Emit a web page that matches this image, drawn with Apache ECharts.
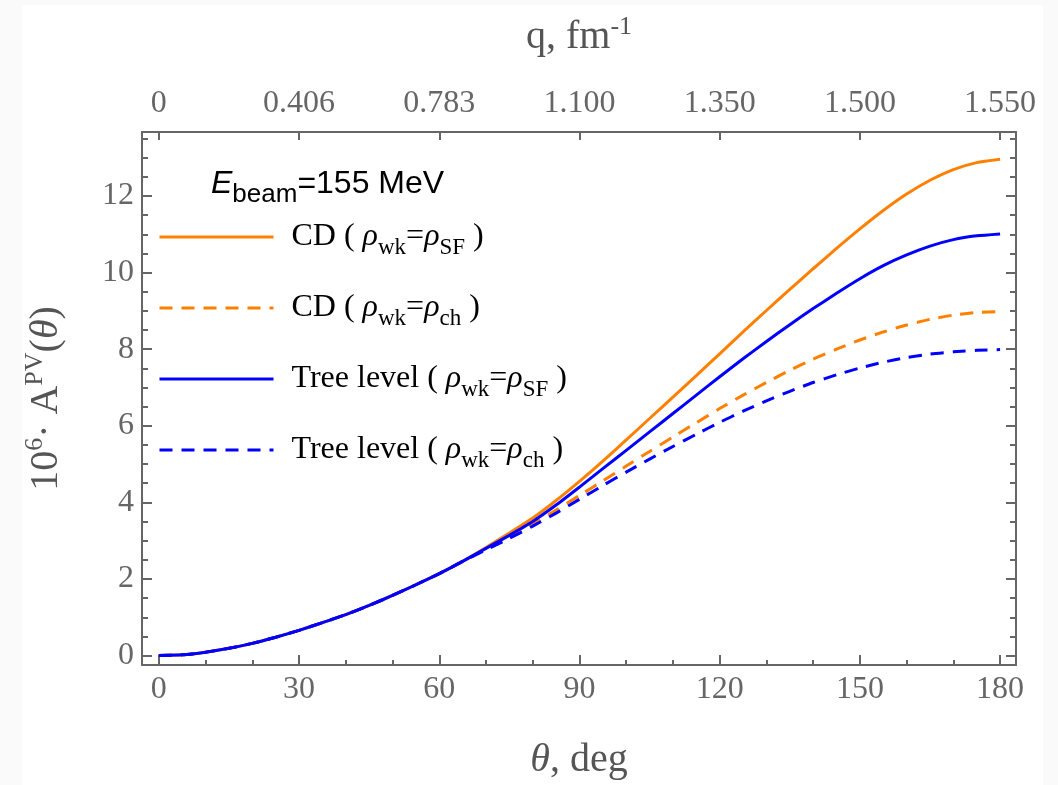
<!DOCTYPE html>
<html><head><meta charset="utf-8">
<script src="https://cdn.jsdelivr.net/npm/echarts@6/dist/echarts.min.js"></script>
<style>
html,body{margin:0;padding:0;background:#fafafa;}
#bg{position:absolute;left:22px;top:5px;width:1021px;height:780px;background:#fff;}
#chart{position:absolute;left:0;top:0;width:1058px;height:785px;}
</style></head><body>
<div id="bg"></div><div id="chart"></div>
<script>
// scattering angle, deg
const theta = [0,5,10,15,20,25,30,35,40,45,50,55,60,65,70,75,80,85,90,95,100,105,110,115,120,125,130,135,140,145,150,155,160,165,170,175,180];
// 10^6 * A_PV
const cdSF   = [0,0.02,0.09,0.19,0.32,0.48,0.66,0.86,1.07,1.31,1.57,1.85,2.14,2.46,2.82,3.20,3.59,4.05,4.55,5.08,5.63,6.19,6.75,7.31,7.88,8.45,9.01,9.56,10.10,10.63,11.14,11.62,12.05,12.41,12.69,12.87,12.96];
const cdCh   = [0,0.02,0.09,0.19,0.32,0.48,0.66,0.86,1.07,1.31,1.57,1.85,2.14,2.46,2.78,3.10,3.43,3.80,4.18,4.56,4.95,5.33,5.71,6.08,6.45,6.80,7.13,7.45,7.74,8.00,8.24,8.45,8.63,8.78,8.89,8.96,8.98];
const treeSF = [0,0.02,0.09,0.19,0.32,0.48,0.66,0.86,1.07,1.31,1.57,1.85,2.14,2.46,2.80,3.14,3.50,3.93,4.40,4.88,5.36,5.84,6.32,6.80,7.28,7.75,8.20,8.64,9.06,9.46,9.84,10.18,10.46,10.69,10.86,10.96,11.01];
const treeCh = [0,0.02,0.09,0.19,0.32,0.48,0.66,0.86,1.07,1.31,1.57,1.85,2.14,2.46,2.76,3.06,3.38,3.72,4.08,4.44,4.79,5.13,5.46,5.78,6.09,6.38,6.65,6.90,7.13,7.33,7.51,7.66,7.78,7.87,7.93,7.97,7.99];

const thetaMajorTicks = [0,30,60,90,120,150,180];
const thetaMinorTicks = [10,20,40,50,70,80,100,110,130,140,160,170];
const qTickLabels = ['0','0.406','0.783','1.100','1.350','1.500','1.550'];
const yMajorTicks = [0,2,4,6,8,10,12];
const yMinorTicks = [0.5,1,1.5,2.5,3,3.5,4.5,5,5.5,6.5,7,7.5,8.5,9,9.5,10.5,11,11.5,12.5,13,13.5];

const seriesKeys = ['cdSF','cdCh','treeSF','treeCh'];
const seriesLabels = {
  cdSF:   '{n0|CD} {n|(} {r|ρ}{s|wk}{n|=}{r|ρ}{s|SF} {n|)}',
  cdCh:   '{n0|CD} {n|(} {r|ρ}{s|wk}{n|=}{r|ρ}{s|ch} {n|)}',
  treeSF: '{n0|Tree level} {n|(} {r|ρ}{s|wk}{n|=}{r|ρ}{s|SF} {n|)}',
  treeCh: '{n0|Tree level} {n|(} {r|ρ}{s|wk}{n|=}{r|ρ}{s|ch} {n|)}'
};
const seriesValues = {cdSF, cdCh, treeSF, treeCh};
const seriesColors = {cdSF:'#ff8000', cdCh:'#ff8000', treeSF:'#0000ff', treeCh:'#0000ff'};
const seriesDashed = {cdSF:false, cdCh:true, treeSF:false, treeCh:true};

const X_MIN = -3.6, X_MAX = 183.4, Y_MIN = -0.245, Y_MAX = 13.67;
const AX = '#666';
const serif = 'Liberation Serif';

function xAxisBase(pos) {
  return {type:'value', position:pos, min:X_MIN, max:X_MAX, splitLine:{show:false}};
}
function yAxisBase(pos) {
  return {type:'value', position:pos, min:Y_MIN, max:Y_MAX, splitLine:{show:false}};
}

const chart = echarts.init(document.getElementById('chart'), null, {renderer:'canvas'});
chart.setOption({
  backgroundColor: 'transparent',
  animation: false,
  grid: {left:142, right:42, top:132, bottom:113, containLabel:false},
  title: {
    text: '{e|E}{b|beam}{t|=155 MeV}',
    left: 211, top: 160, padding: 0,
    textStyle: {
      fontWeight: 'normal',
      rich: {
        e: {fontSize:32, fontStyle:'italic', fontWeight:'normal', fontFamily:'Liberation Sans', color:'#000', lineHeight:48},
        b: {fontSize:26, fontWeight:'normal', fontFamily:'Liberation Sans', color:'#000', verticalAlign:'bottom', lineHeight:26},
        t: {fontSize:32, fontWeight:'normal', fontFamily:'Liberation Sans', color:'#000', lineHeight:48}
      }
    }
  },
  legend: {
    orient: 'vertical', left: 158, top: 215, padding: 0,
    itemWidth: 114, itemHeight: 14, itemGap: 27,
    selectedMode: false,
    data: seriesKeys,
    lineStyle: {width: 3},
    itemStyle: {color: 'rgba(0,0,0,0)', borderColor: 'rgba(0,0,0,0)', borderWidth: 0},
    formatter: k => seriesLabels[k],
    textStyle: {
      fontFamily: serif, fontSize: 32, color:'#000', lineHeight: 44,
      rich: {
        n0: {fontFamily:serif, fontSize:32, color:'#000', lineHeight:44, padding:[0,0,0,13]},
        n:  {fontFamily:serif, fontSize:32, color:'#000', lineHeight:44},
        r:  {fontFamily:serif, fontSize:32, fontStyle:'italic', color:'#000', lineHeight:44},
        s:  {fontFamily:serif, fontSize:23, color:'#000', verticalAlign:'bottom', lineHeight:24}
      }
    }
  },
  xAxis: [
    Object.assign(xAxisBase('bottom'), {
      axisLine:{show:true, onZero:false, lineStyle:{color:AX, width:2}},
      axisTick:{show:true, inside:true, length:10, customValues:thetaMajorTicks, lineStyle:{color:AX, width:2}},
      axisLabel:{show:true, customValues:thetaMajorTicks, margin:9, fontFamily:serif, fontSize:32, color:AX},
      name:'{i|θ}{n|, deg}', nameLocation:'middle', nameGap:72,
      nameTextStyle:{rich:{
        i:{fontFamily:serif, fontSize:40, fontStyle:'italic', color:'#555', lineHeight:46},
        n:{fontFamily:serif, fontSize:40, color:'#555', lineHeight:46}
      }}
    }),
    Object.assign(xAxisBase('bottom'), {
      axisLine:{show:false, onZero:false},
      axisTick:{show:true, inside:true, length:5, customValues:thetaMinorTicks, lineStyle:{color:AX, width:2}},
      axisLabel:{show:false}
    }),
    Object.assign(xAxisBase('top'), {
      axisLine:{show:true, onZero:false, lineStyle:{color:AX, width:2}},
      axisTick:{show:true, inside:true, length:8, customValues:thetaMajorTicks, lineStyle:{color:AX, width:2}},
      axisLabel:{show:true, customValues:thetaMajorTicks, margin:12, fontFamily:serif, fontSize:32, color:AX,
        formatter: v => qTickLabels[thetaMajorTicks.indexOf(v)]},
      name:'{n|q, fm}{sup|-1}', nameLocation:'middle', nameGap:72,
      nameTextStyle:{rich:{
        n:{fontFamily:serif, fontSize:40, color:'#555', lineHeight:46},
        sup:{fontFamily:serif, fontSize:26, color:'#555', verticalAlign:'top', lineHeight:26}
      }}
    })
  ],
  yAxis: [
    Object.assign(yAxisBase('left'), {
      axisLine:{show:true, onZero:false, lineStyle:{color:AX, width:2}},
      axisTick:{show:true, inside:true, length:10, customValues:yMajorTicks, lineStyle:{color:AX, width:2}},
      axisLabel:{show:true, customValues:yMajorTicks, margin:8, fontFamily:serif, fontSize:32, color:AX},
      name:'{n|10}{sup|6}{n|· A}{sup|PV}{n|(}{i|θ}{n|)}', nameLocation:'middle', nameRotate:90, nameGap:72,
      nameTextStyle:{rich:{
        n:{fontFamily:serif, fontSize:40, color:'#555', lineHeight:48},
        i:{fontFamily:serif, fontSize:40, fontStyle:'italic', color:'#555', lineHeight:48},
        sup:{fontFamily:serif, fontSize:26, color:'#555', verticalAlign:'top', lineHeight:26}
      }}
    }),
    Object.assign(yAxisBase('left'), {
      axisLine:{show:false, onZero:false},
      axisTick:{show:true, inside:true, length:6, customValues:yMinorTicks, lineStyle:{color:AX, width:2}},
      axisLabel:{show:false}
    }),
    Object.assign(yAxisBase('right'), {
      axisLine:{show:true, onZero:false, lineStyle:{color:AX, width:2}},
      axisTick:{show:true, inside:true, length:10, customValues:yMajorTicks, lineStyle:{color:AX, width:2}},
      axisLabel:{show:false}
    }),
    Object.assign(yAxisBase('right'), {
      axisLine:{show:false, onZero:false},
      axisTick:{show:true, inside:true, length:6, customValues:yMinorTicks, lineStyle:{color:AX, width:2}},
      axisLabel:{show:false}
    })
  ],
  series: seriesKeys.map(k => ({
    name: k,
    type: 'line',
    xAxisIndex: 0, yAxisIndex: 0,
    data: theta.map((t, i) => [t, seriesValues[k][i]]),
    showSymbol: false, symbol: 'none',
    smooth: 0.2,
    lineStyle: {color: seriesColors[k], width: 3, type: seriesDashed[k] ? [13, 9] : 'solid'},
    itemStyle: {color: seriesColors[k]},
    emphasis: {disabled: true}
  }))
});
</script>
</body></html>
